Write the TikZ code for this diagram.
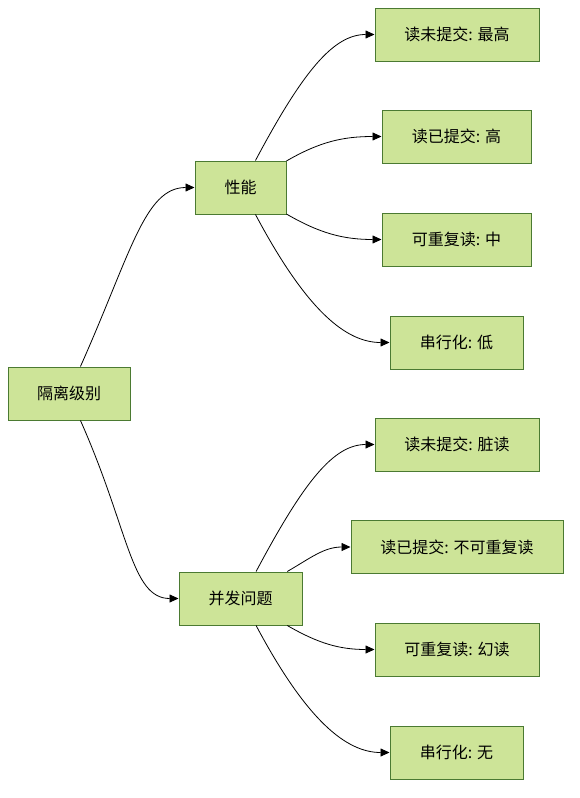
\documentclass[tikz,border=0pt]{standalone}
\usepackage{fontspec}
\usepackage{tikz}
\usetikzlibrary{arrows.meta}
\newfontfamily\cjk{Noto Sans CJK SC}
\definecolor{boxfill}{HTML}{CDE498}
\definecolor{boxline}{HTML}{4B7A32}

\begin{document}
\begin{tikzpicture}[x=1pt, y=-1pt,
    box/.style={draw=boxline, fill=boxfill, line width=1pt, minimum height=53pt, inner sep=0pt, font=\cjk\fontsize{16}{19}\selectfont},
    link/.style={line width=0.8pt, -{Triangle[length=9pt,width=8pt]}},
    steep/.style={out looseness=1.5, in looseness=0.6}]
        \useasboundingbox (0,0) rectangle (579,798);
        \node[box, minimum width=122pt] (level) at (69,393.5) {隔离级别};
        \node[box, minimum width=91pt] (perf) at (240.5,187.5) {性能};
        \node[box, minimum width=123pt] (issue) at (240.5,598.5) {并发问题};
        \node[box, minimum width=164pt] (p1) at (457,34.5) {读未提交: 最高};
        \node[box, minimum width=149pt] (p2) at (456.5,136.5) {读已提交: 高};
        \node[box, minimum width=149pt] (p3) at (456.5,239.5) {可重复读: 中};
        \node[box, minimum width=133pt] (p4) at (456.5,342.5) {串行化: 低};
        \node[box, minimum width=164pt] (q1) at (457,444.5) {读未提交: 脏读};
        \node[box, minimum width=212pt] (q2) at (457,547) {读已提交: 不可重复读};
        \node[box, minimum width=164pt] (q3) at (457,649.5) {可重复读: 幻读};
        \node[box, minimum width=133pt] (q4) at (456.5,752.5) {串行化: 无};
        % from the root
        \draw[link] (level.67) to[out=66, in=180, steep] (perf.west);
        \draw[link] (level.-67) to[out=-66, in=180, steep] (issue.west);
        % performance
        \draw[link] (perf.61) to[out=62, in=180, steep] (p1.west);
        \draw[link] (perf.30) to[out=30, in=180] (p2.west);
        \draw[link] (perf.-30) to[out=-30, in=180] (p3.west);
        \draw[link] (perf.-61) to[out=-62, in=180, steep] (p4.west);
        % problems
        \draw[link] (issue.60) to[out=62, in=180, steep] (q1.west);
        \draw[link] (issue.30) to[out=30, in=180] (q2.west);
        \draw[link] (issue.-30) to[out=-30, in=180] (q3.west);
        \draw[link] (issue.-60) to[out=-62, in=180, steep] (q4.west);
    \end{tikzpicture}
\end{document}
